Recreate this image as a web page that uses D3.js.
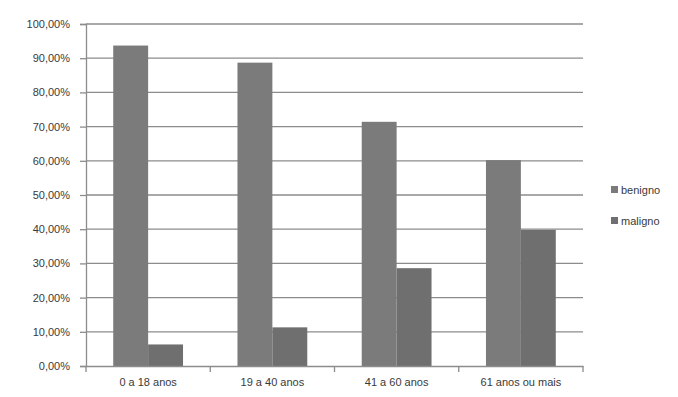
<!DOCTYPE html>
<html>
<head>
<meta charset="utf-8">
<script src="https://cdn.jsdelivr.net/npm/d3@7"></script>
<style>
  html, body { margin: 0; padding: 0; background: #fff; }
  svg { display: block; }
  text { font-family: "Liberation Sans", Arial, sans-serif; fill: #3a3a3a; }
</style>
</head>
<body>
<svg id="chart" width="678" height="397"></svg>
<script>
// Age groups and share of benign / malignant cases (%)
const categories = ["0 a 18 anos", "19 a 40 anos", "41 a 60 anos", "61 anos ou mais"];
const seriesNames = ["benigno", "maligno"];
const benigno = [93.7, 88.7, 71.4, 60.2];
const maligno = [6.3, 11.3, 28.6, 39.8];
const yTicks = [0, 10, 20, 30, 40, 50, 60, 70, 80, 90, 100];

const colors = { benigno: "#7b7b7b", maligno: "#6f6f6f" };

const svg = d3.select("#chart");
const margin = { left: 86, right: 95, top: 24, bottom: 31 };
const W = 678, H = 397;

const x = d3.scaleBand().domain(categories)
  .range([margin.left, W - margin.right]).paddingInner(0).paddingOuter(0);
const xSub = d3.scaleBand().domain(seriesNames)
  .range([0, x.bandwidth()]).paddingInner(0).paddingOuter(0.78);
const y = d3.scaleLinear().domain([0, 100]).range([H - margin.bottom, margin.top]);

const fmt = v => d3.format(".2f")(v).replace(".", ",") + "%";

// Horizontal gridlines
svg.append("g").selectAll("line").data(yTicks.filter(d => d > 0)).join("line")
  .attr("x1", margin.left).attr("x2", W - margin.right)
  .attr("y1", d => y(d)).attr("y2", d => y(d))
  .attr("stroke", "#8c8c8c").attr("stroke-width", 1.3);

// Bars
const rows = categories.map((c, i) => ({ cat: c, benigno: benigno[i], maligno: maligno[i] }));
const groups = svg.append("g").selectAll("g").data(rows).join("g")
  .attr("transform", d => `translate(${x(d.cat)},0)`);
groups.selectAll("rect").data(d => seriesNames.map(s => ({ s, v: d[s] }))).join("rect")
  .attr("x", d => xSub(d.s)).attr("width", xSub.bandwidth())
  .attr("y", d => y(d.v)).attr("height", d => y(0) - y(d.v))
  .attr("fill", d => colors[d.s]);

// Y axis
const yAxis = svg.append("g").attr("transform", `translate(${margin.left},0)`)
  .call(d3.axisLeft(y).tickValues(yTicks).tickFormat(fmt).tickSize(6).tickPadding(10));
yAxis.select(".domain").attr("stroke", "#8c8c8c").attr("stroke-width", 1.3);
yAxis.selectAll(".tick line").attr("stroke", "#8c8c8c").attr("stroke-width", 1.3);
yAxis.selectAll("text").attr("font-size", 11).attr("fill", "#3a3a3a")
  .attr("font-family", "'Liberation Sans', Arial, sans-serif");

// X axis
const xAxis = svg.append("g").attr("transform", `translate(0,${y(0)})`)
  .call(d3.axisBottom(x).tickSize(0).tickPadding(12));
xAxis.select(".domain").attr("stroke", "#8c8c8c").attr("stroke-width", 1.3);
xAxis.selectAll("text").attr("font-size", 11).attr("fill", "#3a3a3a")
  .attr("font-family", "'Liberation Sans', Arial, sans-serif");
// Category boundary ticks
svg.append("g").selectAll("line")
  .data(categories.map(c => x(c)).concat([x(categories[categories.length - 1]) + x.bandwidth()]))
  .join("line")
  .attr("x1", d => d).attr("x2", d => d)
  .attr("y1", y(0)).attr("y2", y(0) + 6)
  .attr("stroke", "#8c8c8c").attr("stroke-width", 1.3);

// Legend
const legend = svg.append("g").attr("transform", "translate(611,190)");
seriesNames.forEach((s, i) => {
  const g = legend.append("g").attr("transform", `translate(0,${i * 31})`);
  g.append("rect").attr("x", 0).attr("y", -4).attr("width", 7).attr("height", 7).attr("fill", colors[s]);
  g.append("text").attr("x", 10).attr("y", 0).attr("dy", "0.35em")
    .attr("font-size", 11).text(s);
});
</script>
</body>
</html>
